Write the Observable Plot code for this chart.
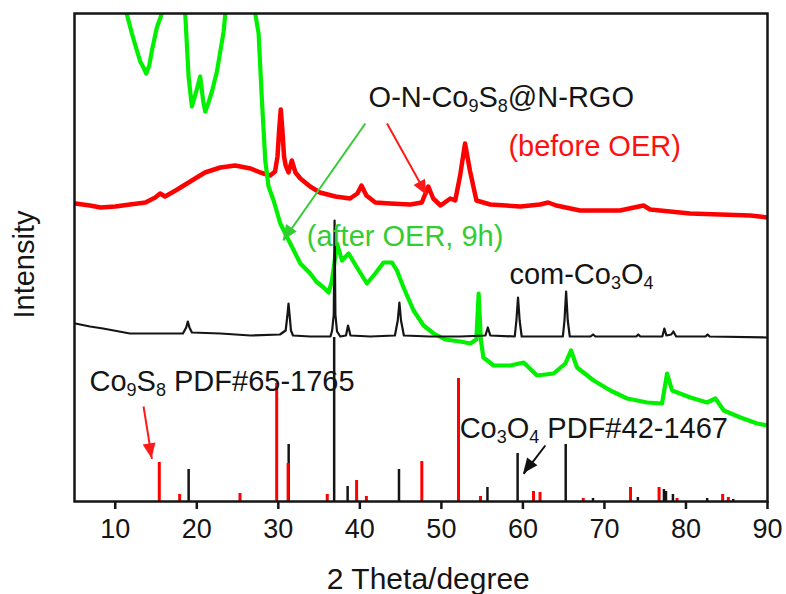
<!DOCTYPE html>
<html>
<head>
<meta charset="utf-8">
<script src="https://cdn.jsdelivr.net/npm/d3@7"></script>
<script src="https://cdn.jsdelivr.net/npm/@observablehq/plot@0.6"></script>
<style>
  html, body { margin: 0; padding: 0; background: #fff; }
</style>
</head>
<body>
<script>
// 2θ tick values for the bottom axis
const xTicks = [10, 20, 30, 40, 50, 60, 70, 80, 90];

// O-N-Co9S8@N-RGO before OER: [2θ, intensity (a.u., offset)]
const beforeOER = [
  [5.1, 298], [6.9, 296], [8.2, 294], [10.0, 295], [11.8, 297], [13.7, 299], [14.9, 304],
  [15.5, 308], [16.1, 305], [17.4, 311], [19.2, 320], [21.0, 329], [22.9, 334], [24.7, 336],
  [26.6, 333], [27.8, 329], [29.0, 326], [29.6, 330], [29.9, 345], [30.1, 371], [30.3, 392],
  [30.5, 371], [30.7, 345], [30.9, 336], [31.25, 329], [31.65, 341], [32.1, 329], [32.7, 323],
  [33.9, 315], [35.1, 309], [37.0, 305], [38.8, 303], [39.7, 308], [40.2, 316], [40.8, 306],
  [41.9, 299], [43.7, 298], [46.2, 297], [47.6, 299], [48.4, 315], [49.0, 303], [49.9, 296],
  [51.1, 303], [51.7, 301], [52.3, 326], [52.9, 358], [53.5, 331], [54.3, 301], [56.0, 297],
  [59.7, 295], [62.1, 297], [63.1, 299], [64.1, 296], [67.0, 291], [71.9, 291], [74.8, 296],
  [75.6, 292], [80.5, 288], [84.2, 287], [87.9, 286], [90.0, 284]
];

// O-N-Co9S8@N-RGO after OER (9 h): [2θ, intensity]
const afterOER = [
  [5.0, 800], [9.0, 640], [11.0, 520], [11.4, 488], [12.04, 468], [12.65, 451], [13.06, 440],
  [13.46, 434], [13.8, 428], [14.17, 436], [14.5, 451], [15.1, 474], [15.72, 488], [16.13, 520],
  [17.4, 560], [18.2, 520], [18.58, 488], [18.99, 425], [19.4, 395], [19.93, 410], [20.42, 425],
  [20.79, 400], [21.04, 390], [21.4, 398], [21.86, 410], [22.47, 430], [22.88, 450], [23.29, 470],
  [23.5, 488], [23.7, 520], [25.5, 560], [26.8, 520], [27.17, 488], [27.58, 468], [27.99, 401],
  [28.4, 341], [28.8, 315], [29.42, 301], [30.24, 278], [31.47, 258], [32.7, 238], [33.92, 228],
  [34.65, 220], [35.55, 214], [36.17, 209], [36.58, 221], [37.2, 258], [37.81, 241], [38.62, 248],
  [39.65, 234], [40.87, 218], [41.89, 228], [42.91, 239], [43.94, 239], [44.55, 231], [45.36, 214],
  [46.59, 191], [47.82, 176], [49.05, 168], [50.48, 162], [52.32, 160], [53.55, 158], [54.29, 162],
  [54.57, 208], [54.84, 162], [55.15, 144], [56.41, 136], [58.46, 136], [60.09, 139], [61.73, 126],
  [63.77, 128], [65.21, 138], [65.9, 151], [66.64, 134], [68.68, 121], [70.73, 111], [72.78, 103],
  [75.23, 99], [77.07, 98], [77.68, 128], [78.3, 111], [80.54, 104], [82.59, 99], [83.61, 103],
  [84.63, 91], [86.68, 84], [88.73, 78], [89.95, 76]
];

// commercial Co3O4: [2θ, intensity]
const comCo3O4 = [
  [5.1, 178], [6.9, 175], [8.5, 173], [11.8, 168], [15.5, 168], [18.3, 168], [18.7, 174],
  [18.9, 180], [19.1, 174], [19.4, 169], [22.9, 168], [26.6, 166], [30.2, 167], [30.9, 171],
  [31.1, 185], [31.25, 198], [31.4, 185], [31.55, 171], [31.8, 166], [33.9, 165], [36.4, 165],
  [36.6, 171], [36.8, 187], [36.9, 281], [37.0, 187], [37.2, 170], [37.6, 165], [38.3, 166],
  [38.55, 176], [38.85, 166], [41.3, 165], [44.3, 166], [44.65, 181], [44.85, 199], [45.05, 181],
  [45.4, 166], [48.6, 165], [52.3, 165], [55.4, 166], [55.7, 174], [56.0, 166], [59.0, 165],
  [59.2, 181], [59.4, 204], [59.6, 181], [59.85, 165], [64.9, 165], [65.1, 181], [65.3, 210],
  [65.5, 181], [65.75, 165], [68.3, 165], [68.6, 167], [68.9, 165], [73.9, 165], [74.15, 167],
  [74.4, 165], [77.1, 165], [77.35, 173], [77.6, 166], [78.2, 167], [78.45, 170], [78.8, 165],
  [82.4, 165], [82.65, 167], [82.9, 165], [90.0, 164]
];

// Reference patterns: Co9S8 PDF#65-1765 and Co3O4 PDF#42-1467
const co9s8Theta = [15.4, 17.9, 25.3, 29.8, 31.2, 36.0, 39.6, 40.8, 47.6, 52.1, 54.8, 61.3, 62.1, 67.4, 73.2, 76.7, 78.9, 84.5, 85.2];
const co9s8Rel   = [39, 7, 8, 118, 38, 7, 21, 5, 40, 123, 5, 10, 9, 3, 14, 14, 3, 7, 4];
const co3o4Theta = [19.0, 31.27, 36.85, 38.5, 44.8, 55.65, 59.35, 65.25, 68.6, 74.1, 77.3, 77.55, 78.4, 82.6, 85.8];
const co3o4Rel   = [32, 57, 164, 15, 32, 14, 48, 57, 3, 4, 12, 10, 7, 3, 2];

const co9s8Sticks = co9s8Theta.map((t, i) => ({theta: t, rel: co9s8Rel[i]}));
const co3o4Sticks = co3o4Theta.map((t, i) => ({theta: t, rel: co3o4Rel[i]}));

// Annotation arrows (data coordinates)
const arrows = [
  {x1: 40.67, y1: 378, x2: 30.61, y2: 261, color: "#33cc33"},
  {x1: 43.33, y1: 378, x2: 48.24, y2: 306, color: "#ff1a1a"},
  {x1: 13.47, y1: 95, x2: 14.5, y2: 42.7, color: "#ff1a1a"},
  {x1: 62.75, y1: 56, x2: 60.09, y2: 27.7, color: "#111111"}
];

// Filled triangular heads at the end of each arrow
function arrowHeads(list, len = 15, half = 6.5) {
  return (index, scales) => {
    const g = d3.create("svg:g");
    for (const a of list) {
      const x1 = scales.x(a.x1), y1 = scales.y(a.y1);
      const x2 = scales.x(a.x2), y2 = scales.y(a.y2);
      const L = Math.hypot(x2 - x1, y2 - y1), ux = (x2 - x1) / L, uy = (y2 - y1) / L;
      const bx = x2 - ux * len, by = y2 - uy * len;
      g.append("path")
        .attr("d", `M${x2},${y2}L${bx - uy * half},${by + ux * half}L${bx + uy * half},${by - ux * half}Z`)
        .attr("fill", a.color);
    }
    return g.node();
  };
}

const ink = "#151515";
const annFont = 29;

const chart = Plot.plot({
  width: 786,
  height: 594,
  marginLeft: 74,
  marginRight: 19,
  marginTop: 13,
  marginBottom: 93,
  style: {fontFamily: "'Liberation Sans', Arial, sans-serif", fontSize: "27px", color: ink, background: "#fff"},
  x: {domain: [5, 90]},
  y: {domain: [0, 488], axis: null},
  color: {type: "identity"},
  marks: [
    Plot.line(beforeOER, {x: d => d[0], y: d => d[1], stroke: "#ff0000", strokeWidth: 4.5, strokeLinejoin: "round", clip: true}),
    Plot.line(afterOER, {x: d => d[0], y: d => d[1], stroke: "#00f000", strokeWidth: 4.2, strokeLinejoin: "round", clip: true}),
    Plot.line(comCo3O4, {x: d => d[0], y: d => d[1], stroke: ink, strokeWidth: 2.2, clip: true}),
    Plot.ruleX(co3o4Sticks, {x: "theta", y1: 0, y2: "rel", stroke: ink, strokeWidth: 2.5}),
    Plot.ruleX(co9s8Sticks, {x: "theta", y1: 0, y2: "rel", stroke: "#ff0000", strokeWidth: 3}),

    Plot.text(["O-N-Co₉S₈@N-RGO"], {x: 41.07, y: 395, text: d => d, textAnchor: "start", lineAnchor: "middle", dy: -0.32 * annFont, fontSize: annFont, fill: ink}),
    Plot.text(["(before OER)"], {x: 58.22, y: 346, text: d => d, textAnchor: "start", lineAnchor: "middle", dy: -0.32 * annFont, fontSize: annFont, fill: "#ff1010"}),
    Plot.text(["(after OER, 9h)"], {x: 33.49, y: 256, text: d => d, textAnchor: "start", lineAnchor: "middle", dy: -0.32 * annFont, fontSize: annFont, fill: "#33cc33"}),
    Plot.text(["com-Co₃O₄"], {x: 58.34, y: 217.7, text: d => d, textAnchor: "start", lineAnchor: "middle", dy: -0.32 * annFont, fontSize: annFont, fill: ink}),
    Plot.text(["Co₉S₈ PDF#65-1765"], {x: 6.84, y: 110.3, text: d => d, textAnchor: "start", lineAnchor: "middle", dy: -0.32 * annFont, fontSize: annFont, fill: ink}),
    Plot.text(["Co₃O₄ PDF#42-1467"], {x: 52.24, y: 63.7, text: d => d, textAnchor: "start", lineAnchor: "middle", dy: -0.32 * annFont, fontSize: annFont, fill: ink}),

    Plot.link(arrows, {x1: "x1", y1: "y1", x2: "x2", y2: "y2", stroke: "color", strokeWidth: 2}),
    arrowHeads(arrows),

    Plot.text(["Intensity"], {x: 5, y: 237, text: d => d, rotate: -90, dx: -50, lineAnchor: "middle", fontSize: 29, fill: ink}),
    Plot.text(["2 Theta/degree"], {x: 48.4, y: 0, text: d => d, dy: 77.5, lineAnchor: "middle", fontSize: 30, fill: ink}),

    Plot.axisX({ticks: xTicks, tickSize: 8, tickPadding: 9, strokeWidth: 2.5, fontSize: 27, label: null}),
    Plot.frame({stroke: ink, strokeWidth: 2.5})
  ]
});

// Render Unicode subscript digits as smaller, lowered tspans
const subMap = {"₀": "0", "₁": "1", "₂": "2", "₃": "3", "₄": "4", "₅": "5", "₆": "6", "₇": "7", "₈": "8", "₉": "9"};
chart.querySelectorAll("text").forEach(t => {
  const s = t.textContent;
  if (!/[₀-₉]/.test(s)) return;
  const parts = s.split(/([₀-₉]+)/).filter(p => p.length);
  while (t.firstChild) t.removeChild(t.firstChild);
  let lowered = false;
  for (const p of parts) {
    const span = document.createElementNS("http://www.w3.org/2000/svg", "tspan");
    if (/^[₀-₉]+$/.test(p)) {
      span.textContent = [...p].map(c => subMap[c]).join("");
      span.setAttribute("font-size", 18);
      span.setAttribute("dy", 5);
      lowered = true;
    } else {
      span.textContent = p;
      if (lowered) span.setAttribute("dy", -5);
      lowered = false;
    }
    t.appendChild(span);
  }
});

document.body.appendChild(chart);
</script>
</body>
</html>
